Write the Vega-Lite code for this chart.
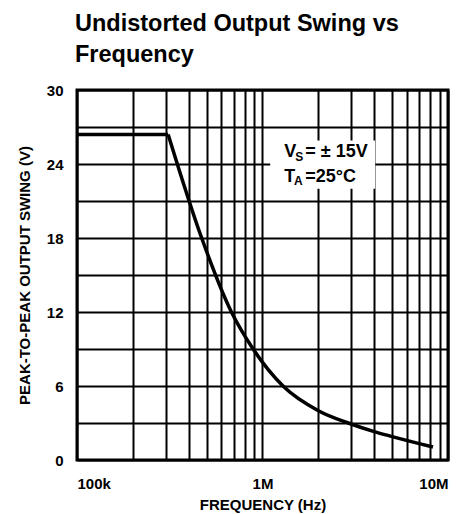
{
  "$schema": "https://vega.github.io/schema/vega-lite/v6.json",
  "width": 371,
  "height": 370,
  "autosize": {"type": "none"},
  "padding": {"left": 77, "top": 90, "right": 15, "bottom": 54},
  "background": "white",
  "title": {
    "text": ["Undistorted Output Swing vs", "Frequency"],
    "anchor": "start",
    "frame": "group",
    "font": "Liberation Sans",
    "fontSize": 23.5,
    "fontWeight": "bold",
    "lineHeight": 31.7,
    "offset": 16,
    "dx": -2,
    "color": "black"
  },
  "config": {
    "view": {"stroke": "black", "strokeWidth": 3},
    "axis": {
      "grid": true,
      "gridColor": "black",
      "gridWidth": 2,
      "gridOpacity": 1,
      "ticks": false,
      "domain": false,
      "labelFont": "Liberation Sans",
      "labelFontSize": 15,
      "labelFontWeight": "bold",
      "labelColor": "black",
      "titleFont": "Liberation Sans",
      "titleFontSize": 15,
      "titleFontWeight": "bold",
      "titleColor": "black",
      "labelOverlap": false,
      "labelBound": false
    }
  },
  "encoding": {
    "x": {
      "field": "f",
      "type": "quantitative",
      "scale": {"type": "log", "domain": [100000, 10000000], "nice": false},
      "axis": {
        "values": [100000, 200000, 300000, 400000, 500000, 600000, 700000, 800000, 900000, 1000000, 2000000, 3000000, 4000000, 5000000, 6000000, 7000000, 8000000, 9000000, 10000000],
        "labelExpr": "datum.value == 100000 ? '100k' : datum.value == 1000000 ? '1M' : datum.value == 10000000 ? '10M' : ''",
        "labelFlush": true,
        "labelPadding": 16,
        "title": "FREQUENCY (Hz)",
        "titlePadding": 6
      }
    },
    "y": {
      "field": "v",
      "type": "quantitative",
      "scale": {"domain": [0, 30], "nice": false},
      "axis": {
        "values": [0, 3, 6, 9, 12, 15, 18, 21, 24, 27, 30],
        "labelExpr": "datum.value % 6 == 0 ? datum.label : ''",
        "labelPadding": 14,
        "title": "PEAK-TO-PEAK OUTPUT SWING (V)",
        "titlePadding": 14
      }
    }
  },
  "layer": [
    {
      "data": {"values": [{"f": 1100000, "f2": 4050000, "v": 22.0, "v2": 25.9}]},
      "mark": {"type": "rect", "fill": "white"},
      "encoding": {
        "x2": {"field": "f2"},
        "y2": {"field": "v2"}
      }
    },
    {
      "data": {"values": [
        {"f": 1310000, "v": 24.6, "t": "V"},
        {"f": 1700000, "v": 24.6, "t": "= ± 15V"},
        {"f": 1310000, "v": 22.57, "t": "T"},
        {"f": 1700000, "v": 22.57, "t": "=25°C"}
      ]},
      "mark": {"type": "text", "align": "left", "baseline": "alphabetic", "font": "Liberation Sans", "fontSize": 18, "fontWeight": "bold", "color": "black"},
      "encoding": {"text": {"field": "t"}}
    },
    {
      "data": {"values": [
        {"f": 1500000, "v": 24.25, "t": "S"},
        {"f": 1480000, "v": 22.3, "t": "A"}
      ]},
      "mark": {"type": "text", "align": "left", "baseline": "alphabetic", "font": "Liberation Sans", "fontSize": 12, "fontWeight": "bold", "color": "black"},
      "encoding": {"text": {"field": "t"}}
    },
    {
      "data": {"values": [
        {"f": 100000, "v": 26.4},
        {"f": 310000, "v": 26.4}
      ]},
      "mark": {"type": "line", "color": "black", "strokeWidth": 3.5}
    },
    {
      "data": {"values": [
        {"f": 310000, "v": 26.4},
        {"f": 470000, "v": 18.0},
        {"f": 680000, "v": 12.0},
        {"f": 890000, "v": 9.0},
        {"f": 1290000, "v": 6.0},
        {"f": 2000000, "v": 4.0},
        {"f": 2900000, "v": 3.0},
        {"f": 4000000, "v": 2.3},
        {"f": 5000000, "v": 1.9},
        {"f": 8300000, "v": 1.05}
      ]},
      "mark": {"type": "line", "color": "black", "strokeWidth": 3.5, "interpolate": "monotone"}
    }
  ]
}
